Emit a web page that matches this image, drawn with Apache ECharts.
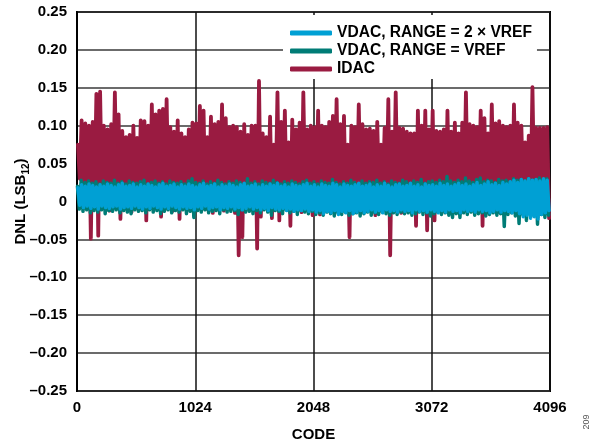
<!DOCTYPE html>
<html>
<head>
<meta charset="utf-8">
<script src="https://cdn.jsdelivr.net/npm/echarts@6/dist/echarts.min.js"></script>
<style>
html,body{margin:0;padding:0;background:#fff;}
#chart{width:594px;height:447px;}
</style>
</head>
<body>
<div id="chart"></div>
<script>
// Per 32-code bin: local maximum and minimum DNL
const binSize = 32;
const xTicks = [0, 1024, 2048, 3072, 4096];
const yTicks = [-0.25, -0.20, -0.15, -0.10, -0.05, 0, 0.05, 0.10, 0.15, 0.20, 0.25];
const seriesNames = ['VDAC, RANGE = 2 × VREF', 'VDAC, RANGE = VREF', 'IDAC'];

const idacHi = [
0.075,0.107,0.103,0.100,0.105,0.142,0.145,0.100,0.095,0.102,0.144,0.115,0.093,0.085,0.088,0.100,
0.084,0.107,0.106,0.100,0.128,0.115,0.120,0.122,0.135,0.098,0.092,0.107,0.090,0.085,0.095,0.104,
0.103,0.126,0.120,0.085,0.112,0.102,0.105,0.128,0.110,0.098,0.100,0.098,0.092,0.102,0.088,0.100,
0.100,0.159,0.090,0.085,0.112,0.075,0.144,0.105,0.120,0.078,0.108,0.095,0.104,0.144,0.095,0.100,
0.098,0.120,0.100,0.098,0.105,0.113,0.135,0.102,0.113,0.075,0.100,0.098,0.128,0.102,0.095,0.096,
0.093,0.105,0.075,0.097,0.135,0.092,0.144,0.097,0.096,0.092,0.090,0.090,0.120,0.100,0.120,0.095,
0.120,0.093,0.092,0.095,0.120,0.092,0.104,0.090,0.104,0.144,0.102,0.100,0.098,0.120,0.110,0.090,
0.128,0.103,0.106,0.100,0.098,0.100,0.128,0.104,0.100,0.078,0.087,0.151,0.097,0.097,0.097,0.098
];
const idacLo = [
0.030,0.008,0.004,-0.049,0.006,-0.045,0.002,0.010,-0.012,0.005,0.008,-0.023,0.004,0.009,-0.014,0.006,
0.003,0.010,-0.025,0.005,0.002,0.008,-0.020,0.006,0.004,-0.013,0.007,-0.023,0.005,0.009,0.002,0.006,
0.004,0.010,-0.010,0.005,-0.015,0.007,0.003,-0.012,0.006,0.008,-0.015,-0.071,-0.047,0.004,0.009,-0.012,
-0.062,-0.020,0.006,0.003,-0.022,0.008,-0.025,0.005,-0.010,-0.032,0.006,0.002,-0.014,0.007,0.004,-0.018,
0.006,-0.017,0.003,-0.012,0.008,0.005,0.002,0.009,-0.013,-0.047,0.006,0.003,0.008,-0.012,0.005,0.007,
-0.018,0.004,0.009,0.002,-0.071,0.006,0.004,-0.015,0.007,0.003,0.008,-0.032,0.005,0.002,-0.038,0.006,
-0.025,0.004,0.008,-0.013,0.005,0.003,0.007,-0.015,0.004,0.006,0.002,-0.012,0.008,-0.032,0.005,0.003,
0.007,-0.014,0.004,0.006,0.002,-0.013,0.008,0.005,0.003,-0.016,0.006,0.004,0.007,-0.015,0.005,-0.022
];
const vrefHi = [
0.020,0.028,0.025,0.027,0.024,0.026,0.023,0.027,0.025,0.024,0.028,0.024,0.026,0.023,0.027,0.025,
0.024,0.026,0.028,0.023,0.025,0.027,0.024,0.026,0.023,0.027,0.025,0.024,0.026,0.023,0.027,0.030,
0.025,0.024,0.027,0.023,0.026,0.024,0.028,0.025,0.023,0.026,0.024,0.027,0.025,0.023,0.030,0.024,
0.026,0.023,0.027,0.025,0.024,0.028,0.025,0.023,0.026,0.024,0.027,0.025,0.023,0.026,0.028,0.024,
0.026,0.023,0.027,0.025,0.024,0.029,0.025,0.023,0.026,0.024,0.028,0.025,0.023,0.027,0.024,0.026,
0.025,0.028,0.024,0.026,0.023,0.027,0.025,0.024,0.028,0.026,0.024,0.027,0.025,0.029,0.024,0.026,
0.027,0.025,0.028,0.026,0.033,0.027,0.025,0.028,0.026,0.031,0.027,0.025,0.029,0.031,0.026,0.028,
0.027,0.025,0.029,0.027,0.028,0.026,0.030,0.028,0.029,0.027,0.030,0.028,0.029,0.031,0.029,0.030
];
const vrefLo = [
-0.010,-0.013,-0.011,-0.015,-0.012,-0.014,-0.011,-0.016,-0.012,-0.013,-0.011,-0.015,-0.012,-0.014,-0.016,-0.011,
-0.013,-0.012,-0.015,-0.011,-0.014,-0.012,-0.016,-0.013,-0.011,-0.015,-0.012,-0.014,-0.011,-0.016,-0.013,-0.021,
-0.012,-0.014,-0.011,-0.015,-0.013,-0.012,-0.016,-0.011,-0.014,-0.013,-0.012,-0.017,-0.011,-0.014,-0.013,-0.016,
-0.012,-0.015,-0.011,-0.014,-0.018,-0.012,-0.013,-0.016,-0.011,-0.015,-0.013,-0.017,-0.012,-0.014,-0.016,-0.013,
-0.017,-0.015,-0.018,-0.014,-0.016,-0.019,-0.015,-0.017,-0.014,-0.018,-0.016,-0.015,-0.019,-0.016,-0.014,-0.018,
-0.015,-0.017,-0.014,-0.016,-0.018,-0.015,-0.017,-0.014,-0.016,-0.015,-0.018,-0.016,-0.014,-0.017,-0.015,-0.019,
-0.016,-0.014,-0.017,-0.015,-0.018,-0.021,-0.016,-0.021,-0.015,-0.017,-0.014,-0.018,-0.016,-0.015,-0.019,-0.017,
-0.015,-0.018,-0.016,-0.033,-0.017,-0.015,-0.019,-0.029,-0.017,-0.025,-0.016,-0.018,-0.030,-0.017,-0.021,-0.018
];
const v2Hi = [
0.018,0.022,0.020,0.023,0.021,0.019,0.022,0.020,0.023,0.021,0.019,0.022,0.024,0.020,0.021,0.023,
0.019,0.022,0.020,0.023,0.021,0.019,0.022,0.024,0.020,0.021,0.023,0.019,0.022,0.020,0.023,0.021,
0.019,0.022,0.024,0.020,0.021,0.023,0.019,0.022,0.020,0.023,0.021,0.019,0.022,0.024,0.020,0.021,
0.023,0.019,0.022,0.020,0.023,0.021,0.024,0.020,0.022,0.019,0.023,0.021,0.020,0.022,0.024,0.020,
0.022,0.019,0.023,0.021,0.020,0.024,0.022,0.019,0.023,0.021,0.020,0.022,0.024,0.020,0.021,0.023,
0.019,0.022,0.020,0.024,0.021,0.019,0.022,0.023,0.020,0.021,0.024,0.020,0.022,0.019,0.023,0.021,
0.022,0.020,0.024,0.021,0.023,0.020,0.022,0.024,0.021,0.023,0.020,0.022,0.025,0.021,0.023,0.026,
0.022,0.024,0.021,0.025,0.023,0.026,0.028,0.025,0.029,0.027,0.030,0.028,0.029,0.027,0.030,0.028
];
const v2Lo = [
-0.005,-0.008,-0.006,-0.009,-0.007,-0.010,-0.006,-0.008,-0.009,-0.007,-0.006,-0.010,-0.008,-0.007,-0.009,-0.006,
-0.008,-0.010,-0.007,-0.009,-0.006,-0.008,-0.010,-0.007,-0.009,-0.006,-0.008,-0.010,-0.007,-0.009,-0.008,-0.011,
-0.007,-0.009,-0.006,-0.010,-0.008,-0.007,-0.011,-0.008,-0.009,-0.007,-0.010,-0.008,-0.011,-0.009,-0.007,-0.010,
-0.008,-0.011,-0.009,-0.012,-0.008,-0.010,-0.011,-0.009,-0.012,-0.010,-0.013,-0.011,-0.012,-0.010,-0.013,-0.011,
-0.014,-0.012,-0.016,-0.013,-0.015,-0.012,-0.017,-0.013,-0.015,-0.012,-0.016,-0.014,-0.012,-0.015,-0.013,-0.011,
-0.014,-0.012,-0.015,-0.011,-0.013,-0.012,-0.014,-0.011,-0.013,-0.012,-0.015,-0.011,-0.013,-0.012,-0.014,-0.011,
-0.013,-0.015,-0.012,-0.014,-0.011,-0.013,-0.012,-0.015,-0.011,-0.013,-0.012,-0.014,-0.011,-0.013,-0.012,-0.015,
-0.013,-0.011,-0.014,-0.012,-0.013,-0.015,-0.012,-0.016,-0.020,-0.018,-0.022,-0.020,-0.023,-0.017,-0.015,-0.012
];

function band(hi, lo, offset) {
  const d = [];
  for (let i = 0; i < hi.length; i++) {
    d.push([i * binSize + offset, hi[i]]);
    d.push([i * binSize + offset + binSize / 2, lo[i]]);
  }
  return d;
}

const FONT = '"Liberation Sans", Arial, Helvetica, sans-serif';
const COLORS = { v2: '#00A0D4', vref: '#007C76', idac: '#9A1B41' };

const chart = echarts.init(document.getElementById('chart'), null, { renderer: 'canvas' });

function lineSeries(name, color, data, w) {
  return {
    name: name, type: 'line', data: data, color: color,
    showSymbol: false, symbol: 'none', silent: true, animation: false,
    lineStyle: { color: color, width: w, join: 'round', cap: 'round' },
    emphasis: { disabled: true }
  };
}

chart.setOption({
  animation: false,
  backgroundColor: '#fff',
  textStyle: { fontFamily: FONT },
  grid: { left: 77, right: 44, top: 12, bottom: 56, show: true, borderColor: '#000', borderWidth: 2,
    containLabel: false, outerBoundsMode: 'none' },
  legend: {
    data: seriesNames,
    orient: 'vertical',
    left: 283, top: 15,
    padding: [10, 5, 2, 7],
    itemGap: 2,
    itemWidth: 42, itemHeight: 5,
    icon: 'roundRect',
    backgroundColor: '#fff',
    selectedMode: false,
    textStyle: { fontFamily: FONT, fontSize: 15.6, fontWeight: 'bold', color: '#000', lineHeight: 16 }
  },
  xAxis: {
    type: 'value', min: xTicks[0], max: xTicks[xTicks.length - 1], interval: 1024,
    name: 'CODE', nameLocation: 'middle', nameGap: 36,
    nameTextStyle: { fontFamily: FONT, fontSize: 15, fontWeight: 'bold', color: '#000' },
    axisLine: { show: true, lineStyle: { color: '#000', width: 2 } },
    axisTick: { show: false },
    axisLabel: { margin: 9, fontFamily: FONT, fontSize: 15, fontWeight: 'bold', color: '#000',
      formatter: v => xTicks.indexOf(v) >= 0 ? String(v) : '' },
    splitLine: { show: true, lineStyle: { color: '#111', width: 1.5 } }
  },
  yAxis: {
    type: 'value', min: yTicks[0], max: yTicks[yTicks.length - 1], interval: 0.05,
    name: '{a|DNL (LSB}{b|12}{a|)}', nameLocation: 'middle', nameGap: 46, nameRotate: 90,
    nameMoveOverlap: false,
    nameTextStyle: {
      fontFamily: FONT, fontSize: 15, fontWeight: 'bold', color: '#000',
      rich: {
        a: { fontFamily: FONT, fontSize: 15, fontWeight: 'bold', color: '#000', lineHeight: 20 },
        b: { fontFamily: FONT, fontSize: 10, fontWeight: 'bold', color: '#000', lineHeight: 10, verticalAlign: 'bottom' }
      }
    },
    axisLine: { show: true, lineStyle: { color: '#000', width: 2 } },
    axisTick: { show: false },
    axisLabel: { margin: 10, fontFamily: FONT, fontSize: 15, fontWeight: 'bold', color: '#000',
      formatter: v => {
        const r = Math.round(v * 100) / 100;
        if (r === 0) return '0';
        return r.toFixed(2).replace('-', '\u2013');
      } },
    splitLine: { show: true, lineStyle: { color: '#3a3a3a', width: 1.5 } }
  },
  series: [
    lineSeries(seriesNames[2], COLORS.idac, band(idacHi, idacLo, 8), 3.8),
    lineSeries(seriesNames[1], COLORS.vref, band(vrefHi, vrefLo, 4), 3.5),
    lineSeries(seriesNames[0], COLORS.v2, band(v2Hi, v2Lo, 8), 3.5)
  ],
  graphic: [{
    type: 'text', x: 587, y: 422, rotation: Math.PI / 2,
    style: { text: '209', fontFamily: FONT, fontSize: 9, fill: '#555', align: 'center', verticalAlign: 'middle' }
  }]
});
</script>
</body>
</html>
